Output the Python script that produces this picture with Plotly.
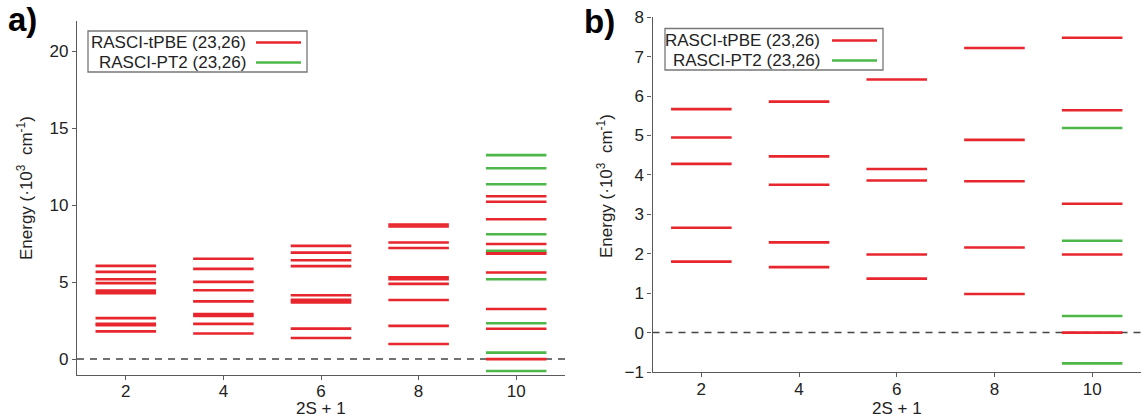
import plotly.graph_objects as go

# ---------------- data (energies in 10^3 cm^-1) ----------------
multiplicities = [2, 4, 6, 8, 10]

# panel a) RASCI-tPBE (23,26)
a_tpbe_m2 = [6.06, 5.67, 5.19, 4.94, 4.45, 4.28, 2.66, 2.30, 2.20, 1.80]
a_tpbe_m4 = [6.52, 5.86, 5.02, 4.47, 3.75, 2.92, 2.80, 2.29, 1.66]
a_tpbe_m6 = [7.36, 6.92, 6.42, 6.04, 4.15, 3.86, 3.78, 3.68, 1.98, 1.37]
a_tpbe_m8 = [8.75, 8.62, 7.58, 7.22, 5.32, 5.19, 4.89, 3.84, 2.16, 0.98]
a_tpbe_m10 = [10.58, 10.22, 9.09, 7.48, 6.92, 6.85, 5.63, 3.26, 1.97, 0.0]
# panel a) RASCI-PT2 (23,26)
a_pt2_m10 = [13.25, 12.40, 11.36, 8.11, 7.04, 5.19, 2.33, 0.42, -0.77]

# panel b) RASCI-tPBE (23,26)
b_tpbe_m2 = [5.67, 4.95, 4.28, 2.66, 1.80]
b_tpbe_m4 = [5.86, 4.47, 3.75, 2.29, 1.66]
b_tpbe_m6 = [6.42, 4.15, 3.86, 1.98, 1.37]
b_tpbe_m8 = [7.22, 4.89, 3.84, 2.16, 0.98]
b_tpbe_m10 = [7.48, 5.64, 3.27, 1.98, 0.0]
# panel b) RASCI-PT2 (23,26)
b_pt2_m10 = [5.19, 2.33, 0.42, -0.78]

a_tpbe = [a_tpbe_m2, a_tpbe_m4, a_tpbe_m6, a_tpbe_m8, a_tpbe_m10]
b_tpbe = [b_tpbe_m2, b_tpbe_m4, b_tpbe_m6, b_tpbe_m8, b_tpbe_m10]

legend_labels = ["RASCI-tPBE (23,26)", "RASCI-PT2 (23,26)"]
y_title = "Energy (·10<sup>3</sup>  cm<sup>-1</sup>)"
x_title = "2S + 1"

# ---------------- styling ----------------
RED = "#e8262d"
GREEN = "#4db849"
AXC = "#5a5a5a"
FONT = "Liberation Sans, Arial, sans-serif"
HALF = 0.62
W, H = 1143, 419


def segments(xs, levels):
    X, Y = [], []
    for xc, lv in zip(xs, levels):
        for e in lv:
            X += [xc - HALF, xc + HALF, None]
            Y += [e, e, None]
    return X, Y


fig = go.Figure()

for xa, ya, tpbe, pt2 in [("x", "y", a_tpbe, a_pt2_m10), ("x2", "y2", b_tpbe, b_pt2_m10)]:
    # zero reference
    fig.add_trace(go.Scatter(x=[1, 11], y=[0, 0], mode="lines", xaxis=xa, yaxis=ya,
                             line=dict(color="#444444", width=1.5, dash="7px,6px"),
                             showlegend=False, hoverinfo="skip"))
    X, Y = segments(multiplicities, tpbe)
    fig.add_trace(go.Scatter(x=X, y=Y, mode="lines", xaxis=xa, yaxis=ya,
                             line=dict(color=RED, width=2.6), showlegend=False))
    X, Y = segments([10], [pt2])
    fig.add_trace(go.Scatter(x=X, y=Y, mode="lines", xaxis=xa, yaxis=ya,
                             line=dict(color=GREEN, width=2.6), showlegend=False))


def px_x(p):
    return p / W


def px_y(p):
    return 1 - p / H


axis_common = dict(showline=True, linecolor=AXC, linewidth=1.3, ticks="outside",
                   ticklen=4, tickcolor=AXC, tickwidth=1.3, showgrid=False, zeroline=False,
                   automargin=False,
                   tickfont=dict(family=FONT, size=17, color="#222222"))

fig.update_layout(
    width=W, height=H, autosize=False,
    margin=dict(l=0, r=0, t=0, b=0, pad=0, autoexpand=False),
    plot_bgcolor="white", paper_bgcolor="white",
    showlegend=False,
    xaxis=dict(domain=[px_x(77), px_x(565)], range=[1, 11], tickvals=multiplicities,
               anchor="y", ticklabelstandoff=-3, **axis_common),
    yaxis=dict(domain=[px_y(374.5), px_y(20.5)], range=[-1, 22], tickvals=[0, 5, 10, 15, 20],
               anchor="x", **axis_common),
    xaxis2=dict(domain=[px_x(652.5), px_x(1141)], range=[1, 11], tickvals=multiplicities,
                anchor="y2", ticklabelstandoff=-3, **axis_common),
    yaxis2=dict(domain=[px_y(372), px_y(17.3)], range=[-1, 8], tickvals=list(range(-1, 9)),
                anchor="x2", **axis_common),
)

ann = []
shapes = []
# panel labels
ann.append(dict(text="<b>a)</b>", x=px_x(6), y=px_y(20), xref="paper", yref="paper",
                xanchor="left", yanchor="middle", showarrow=False,
                font=dict(family=FONT, size=33, color="black")))
ann.append(dict(text="<b>b)</b>", x=px_x(582), y=px_y(22), xref="paper", yref="paper",
                xanchor="left", yanchor="middle", showarrow=False,
                font=dict(family=FONT, size=33, color="black")))
# axis titles
for xc, yc in [(25, 188), (605, 186)]:
    ann.append(dict(text=y_title, x=px_x(xc), y=px_y(yc), xref="paper", yref="paper",
                    xanchor="center", yanchor="middle", textangle=-90, showarrow=False,
                    font=dict(family=FONT, size=17, color="#222222")))
for xc in [321, 897]:
    ann.append(dict(text=x_title, x=px_x(xc), y=px_y(408), xref="paper", yref="paper",
                    xanchor="center", yanchor="middle", showarrow=False,
                    font=dict(family=FONT, size=17, color="#222222")))

# manual legends (text right-aligned, line sample on the right)
legends = [
    dict(box=(88, 31, 307, 72), text_right=248, line=(256, 301), rows=(42.5, 62.5)),
    dict(box=(665, 28.5, 883, 70), text_right=822, line=(832, 877), rows=(40.5, 60.5)),
]
for lg in legends:
    x0, y0, x1, y1 = lg["box"]
    shapes.append(dict(type="rect", xref="paper", yref="paper",
                       x0=px_x(x0), x1=px_x(x1), y0=px_y(y1), y1=px_y(y0),
                       line=dict(color="#777777", width=1.3), fillcolor="white", layer="above"))
    for lab, col, ry in zip(legend_labels, [RED, GREEN], lg["rows"]):
        ann.append(dict(text=lab, x=px_x(lg["text_right"]), y=px_y(ry), xref="paper", yref="paper",
                        xanchor="right", yanchor="middle", showarrow=False,
                        font=dict(family=FONT, size=17, color="#222222")))
        shapes.append(dict(type="line", xref="paper", yref="paper",
                           x0=px_x(lg["line"][0]), x1=px_x(lg["line"][1]),
                           y0=px_y(ry), y1=px_y(ry), line=dict(color=col, width=2.6), layer="above"))

fig.update_layout(annotations=ann, shapes=shapes)
fig.write_html("out.html")
